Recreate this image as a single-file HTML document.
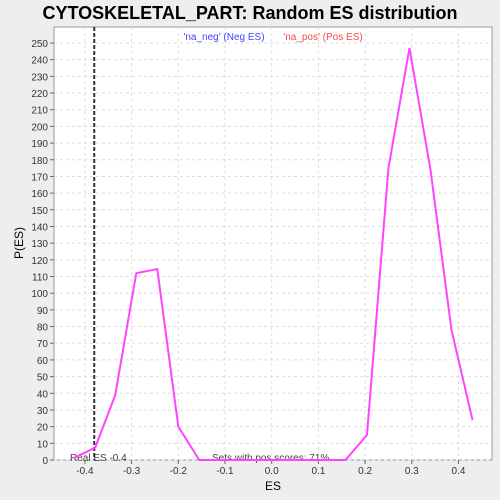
<!DOCTYPE html>
<html><head><meta charset="utf-8"><style>
body{margin:0;background:#eeeeee;font-family:"Liberation Sans",sans-serif;}
svg{display:block}
</style></head><body>
<svg id="c" width="500" height="500">
<rect x="0" y="0" width="500" height="500" fill="#eeeeee"/>
<text x="250" y="19" text-anchor="middle" font-size="18" font-weight="bold" fill="#000">CYTOSKELETAL_PART: Random ES distribution</text>
<rect x="54" y="27" width="438" height="433" fill="#fff" stroke="#999"/>
<g id="grid"></g><g id="axes"></g>
<text x="224" y="40" text-anchor="middle" font-size="10" fill="#4444ff">'na_neg' (Neg ES)</text>
<text x="323" y="40" text-anchor="middle" font-size="10" fill="#ff4444">'na_pos' (Pos ES)</text>
<text x="70" y="461" font-size="10" fill="#444">Real ES -0.4</text>
<text x="212" y="461" font-size="10" fill="#444">Sets with pos scores: 71%</text>
<text x="273" y="490" text-anchor="middle" font-size="12" fill="#000">ES</text>
<text x="23" y="243" text-anchor="middle" font-size="12" fill="#000" transform="rotate(-90 23 243)">P(ES)</text>
</svg>
<script>
const esValues=[-0.425,-0.378,-0.335,-0.29,-0.245,-0.2,-0.155,0.158,0.204,0.25,0.295,0.34,0.385,0.43];
const pValues=[1,7.4,39,112,114.5,20,0,0,15,175,247,174,78,24];
const xTicks=[-0.4,-0.3,-0.2,-0.1,0.0,0.1,0.2,0.3,0.4];
const xTickLabels=["-0.4","-0.3","-0.2","-0.1","0.0","0.1","0.2","0.3","0.4"];
const realES=[-0.38];
const NS="http://www.w3.org/2000/svg";
const sx=v=>271.7+v*467;
const sy=v=>460-v*1.668;
const svg=document.getElementById('c');
const grid=document.getElementById('grid'),axes=document.getElementById('axes');
function mk(tag,attrs,parent){const e=document.createElementNS(NS,tag);for(const k in attrs)e.setAttribute(k,attrs[k]);parent.appendChild(e);return e;}
for(let v=0;v<=250;v+=10){
 const y=sy(v);
 const g=mk('line',{x1:54,x2:492,y1:y,y2:y,stroke:'#ddd','stroke-dasharray':'3,3'},grid);
 
 
 const t=mk('line',{x1:50,x2:54,y1:y,y2:y,stroke:'#666'},axes);
 
 
 const l=mk('text',{x:48,y:y+4,'text-anchor':'end','font-size':10,fill:'#333'},axes);
 l.textContent=v;
 
 
}
xTicks.forEach((v,i)=>{
 const x=sx(v);
 const g=mk('line',{x1:x,x2:x,y1:27,y2:460,stroke:'#ddd','stroke-dasharray':'3,3'},grid);
 
 
 const t=mk('line',{x1:x,x2:x,y1:460,y2:464,stroke:'#666'},axes);
 
 
 const l=mk('text',{x:x,y:474,'text-anchor':'middle','font-size':10,fill:'#333'},axes);
 l.textContent=xTickLabels[i];
 
 
});
const rl=mk('line',{x1:sx(realES[0]),x2:sx(realES[0]),y1:27,y2:460,stroke:'#333','stroke-width':2,'stroke-dasharray':'4,2'},svg);


const pts=esValues.map((v,i)=>sx(v)+','+sy(pValues[i])).join(' ');
const pl=mk('polyline',{points:pts,fill:'none',stroke:'#ff44ff','stroke-width':2},svg);


</script>
</body></html>
